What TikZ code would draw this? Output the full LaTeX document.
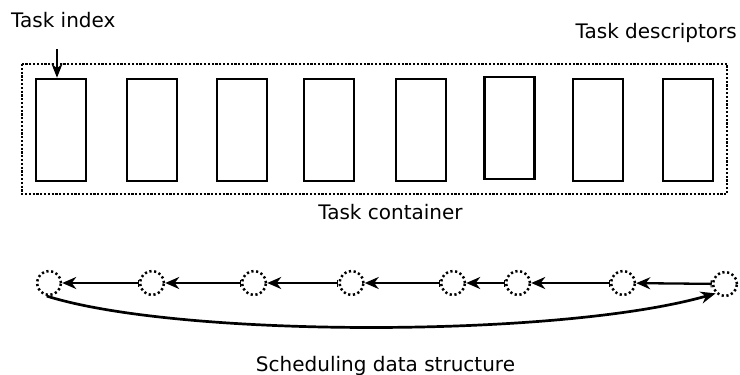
\documentclass[tikz,border=0pt]{standalone}
\usepackage{fontspec}
\setmainfont{DejaVu Sans}
\usetikzlibrary{arrows.meta}
\begin{document}
\begin{tikzpicture}[x=1pt,y=-1pt,
  lbl/.style={inner sep=0pt,font=\fontsize{20}{24}\selectfont},
  td/.style={draw,line width=2.6pt,minimum width=50pt,minimum height=102pt,inner sep=0pt},
  cont/.style={draw,line width=2.4pt,dash pattern=on 2.2pt off 1.6pt},
  sd/.style={draw,circle,line width=2.5pt,dash pattern=on 2.2pt off 2.6pt,minimum size=24pt,inner sep=0pt},
  link/.style={line width=2.3pt,{Bar[width=7pt,line width=1.2pt]}-{Stealth[length=14pt,width=12pt]}},
  loop/.style={line width=2.7pt,-{Stealth[length=15pt,width=12pt]}}
]
\useasboundingbox (0,0) rectangle (740,375);
% container
\draw[cont] (22,64) rectangle (727,194);
% task descriptors
\node[td] (t1) at (61,130) {};
\node[td] (t2) at (152,130) {};
\node[td] (t3) at (242,130) {};
\node[td] (t4) at (329,130) {};
\node[td] (t5) at (421,130) {};
\node[td] (t6) at (509.5,128) {};
\node[td] (t7) at (598,130) {};
\node[td] (t8) at (688,130) {};
% labels
\node[lbl,anchor=base west] (ti) at (11,27) {Task index};
\node[lbl,anchor=base east] (tdl) at (737,38) {Task descriptors};
\node[lbl,anchor=base] (tc) at (390.5,219) {Task container};
\node[lbl,anchor=base] (sds) at (385.5,371) {Scheduling data structure};
% task index arrow
\coordinate (tiA) at (57,49);
\draw[line width=2.4pt,-{Stealth[length=14pt,width=11pt]}] (tiA) -- (t1.north -| tiA);
% scheduling nodes
\node[sd] (c1) at (49,283) {};
\node[sd] (c2) at (152,283) {};
\node[sd] (c3) at (254,283) {};
\node[sd] (c4) at (351.5,283) {};
\node[sd] (c5) at (453,283) {};
\node[sd] (c6) at (518,283) {};
\node[sd] (c7) at (623,283) {};
\node[sd] (c8) at (725,284) {};
\foreach \a/\b in {c2/c1,c3/c2,c4/c3,c5/c4,c6/c5,c7/c6,c8/c7}
  \draw[link] (\a) -- (\b);
\draw[loop] (c1.-100) .. controls (180,338) and (560,338) .. (c8.-135);
\end{tikzpicture}
\end{document}
